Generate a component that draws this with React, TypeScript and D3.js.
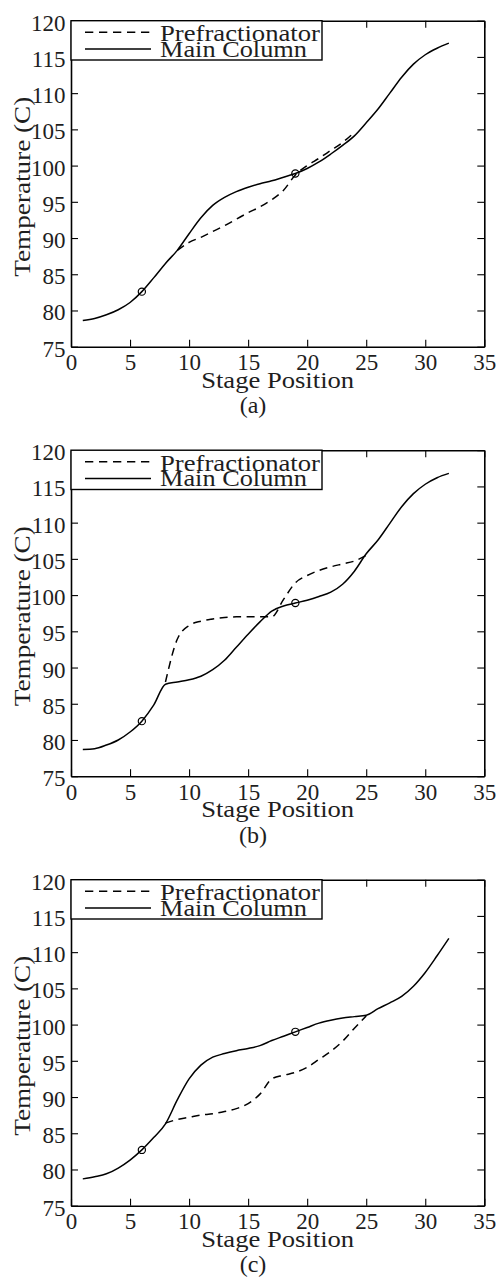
import React, { useEffect, useRef } from 'react';
import * as d3 from 'd3';

const mainStages = [1, 2, 3, 4, 5, 6, 7, 8, 9, 10, 11, 12, 13, 14, 15, 16, 17, 18, 19, 20, 21, 22, 23, 24, 25, 26, 27, 28, 29, 30, 31, 32];

const mainA = [78.6, 78.9, 79.4, 80.1, 81.1, 82.6, 84.5, 86.5, 88.3, 90.6, 92.8, 94.5, 95.6, 96.4, 97.0, 97.5, 97.9, 98.4, 98.9, 99.6, 100.5, 101.6, 102.8, 104.1, 105.9, 107.8, 110.0, 112.2, 114.0, 115.3, 116.2, 116.9];
const prefStagesA = [9, 10, 11, 12, 13, 14, 15, 16, 17, 18, 19, 20, 21, 22, 23, 24];
const prefA = [88.3, 89.4, 90.1, 90.9, 91.7, 92.6, 93.5, 94.3, 95.3, 96.6, 98.7, 100.0, 101.0, 102.1, 103.2, 104.6];

const mainB = [78.7, 78.8, 79.3, 80.0, 81.1, 82.6, 84.8, 87.7, 88.0, 88.3, 88.8, 89.7, 91.0, 92.8, 94.6, 96.3, 97.8, 98.5, 98.9, 99.3, 99.8, 100.4, 101.5, 103.3, 105.7, 107.6, 109.9, 112.2, 114.0, 115.3, 116.2, 116.8];
const prefStagesB = [8, 9, 10, 11, 12, 13, 14, 15, 16, 17, 18, 19, 20, 21, 22, 23, 24, 25];
const prefB = [88.0, 93.9, 95.8, 96.4, 96.7, 96.9, 97.0, 97.0, 97.0, 97.0, 99.4, 101.7, 102.7, 103.4, 103.9, 104.3, 104.7, 105.5];

const mainC = [78.7, 79.0, 79.4, 80.2, 81.3, 82.7, 84.4, 86.3, 89.6, 92.5, 94.4, 95.5, 96.0, 96.4, 96.7, 97.1, 97.8, 98.4, 99.0, 99.6, 100.2, 100.6, 100.9, 101.1, 101.3, 102.2, 103.0, 103.9, 105.3, 107.2, 109.5, 111.9];
const prefStagesC = [8, 9, 10, 11, 12, 13, 14, 15, 16, 17, 18, 19, 20, 21, 22, 23, 24, 25];
const prefC = [86.4, 86.9, 87.2, 87.5, 87.7, 88.0, 88.4, 89.1, 90.4, 92.5, 93.0, 93.4, 94.1, 95.2, 96.3, 97.7, 99.5, 101.2];

const markerStages = [6, 19];
const xTicks = [0, 5, 10, 15, 20, 25, 30, 35];
const yTicks = [75, 80, 85, 90, 95, 100, 105, 110, 115, 120];
const panelLabels = ['(a)', '(b)', '(c)'];
const legendLabels = ['Prefractionator', 'Main Column'];
const xTitle = 'Stage Position';
const yTitle = 'Temperature (C)';

const panels = [
  { main: mainA, prefStages: prefStagesA, pref: prefA },
  { main: mainB, prefStages: prefStagesB, pref: prefB },
  { main: mainC, prefStages: prefStagesC, pref: prefC },
];

const W = 498;
const H = 1279;
const tops = [20.7, 450.2, 879.7];
const LEFT = 71;
const RIGHT = 484.3;
const PH = 326;
const FONT = '"Liberation Serif", "Times New Roman", serif';
const TXT = '#1e1e1e';

export default function App() {
  const ref = useRef<SVGSVGElement | null>(null);

  useEffect(() => {
    const svg = d3.select(ref.current);
    svg.selectAll('*').remove();
    svg.append('rect').attr('width', W).attr('height', H).attr('fill', '#fff');

    panels.forEach((p, i) => {
      const g = svg.append('g').attr('transform', `translate(0,${tops[i]})`);
      const x = d3.scaleLinear().domain([0, 35]).range([LEFT, RIGHT]);
      const y = d3.scaleLinear().domain([75, 120]).range([PH, 0]);

      const styleAxis = (sel: any) => {
        sel.select('.domain').attr('stroke', '#000').attr('stroke-width', 1.6);
        sel.selectAll('.tick line').attr('stroke', '#000').attr('stroke-width', 1.1);
        sel.selectAll('text').attr('font-family', FONT).attr('font-size', 23).attr('fill', TXT);
        sel.attr('font-family', null).attr('font-size', null);
      };

      const bottom = g.append('g').attr('transform', `translate(0,${PH})`)
        .call(d3.axisBottom(x).tickValues(xTicks).tickSize(-7).tickSizeOuter(0).tickPadding(0).tickFormat(d3.format('d')));
      styleAxis(bottom);
      bottom.selectAll('text').attr('dy', null).attr('y', 23.5);

      const left = g.append('g').attr('transform', `translate(${LEFT},0)`)
        .call(d3.axisLeft(y).tickValues(yTicks).tickSize(-7).tickSizeOuter(0).tickPadding(0).tickFormat(d3.format('d')));
      styleAxis(left);
      left.selectAll('text').attr('dy', null).attr('x', -5.5).attr('y', 9.5);

      const right = g.append('g').attr('transform', `translate(${RIGHT},0)`)
        .call(d3.axisRight(y).tickValues(yTicks).tickSize(-7).tickSizeOuter(0).tickFormat(() => ''));
      styleAxis(right);

      const top = g.append('g')
        .call(d3.axisTop(x).tickValues(xTicks).tickSize(-7).tickSizeOuter(0).tickFormat(() => ''));
      styleAxis(top);

      const line = d3.line<[number, number]>()
        .x(d => x(d[0]))
        .y(d => y(d[1]))
        .curve(d3.curveMonotoneX);

      const mainPts: [number, number][] = mainStages.map((s, k) => [s, p.main[k]]);
      const prefPts: [number, number][] = p.prefStages.map((s, k) => [s, p.pref[k]]);

      g.append('path').attr('d', line(prefPts) as string)
        .attr('fill', 'none').attr('stroke', '#000').attr('stroke-width', 1.5)
        .attr('stroke-dasharray', '8,5.5');
      g.append('path').attr('d', line(mainPts) as string)
        .attr('fill', 'none').attr('stroke', '#000').attr('stroke-width', 1.5);

      g.selectAll('circle.mk').data(markerStages).enter().append('circle')
        .attr('class', 'mk')
        .attr('cx', d => x(d))
        .attr('cy', d => y(p.main[mainStages.indexOf(d)]))
        .attr('r', 3.6)
        .attr('fill', 'none').attr('stroke', '#000').attr('stroke-width', 1.2);

      // legend
      const lg = g.append('g');
      lg.append('rect').attr('x', LEFT).attr('y', 0).attr('width', 322 - LEFT).attr('height', 39.3)
        .attr('fill', '#fff').attr('stroke', '#000').attr('stroke-width', 1.4);
      lg.append('line').attr('x1', 85).attr('x2', 151).attr('y1', 11.6).attr('y2', 11.6)
        .attr('stroke', '#000').attr('stroke-width', 1.5).attr('stroke-dasharray', '8.3,5.7');
      lg.append('line').attr('x1', 85).attr('x2', 151).attr('y1', 28.4).attr('y2', 28.4)
        .attr('stroke', '#000').attr('stroke-width', 1.5);
      lg.append('text').attr('x', 160).attr('y', 20.3).text(legendLabels[0])
        .attr('font-family', FONT).attr('font-size', 23.5).attr('fill', TXT)
        .attr('textLength', 160).attr('lengthAdjust', 'spacingAndGlyphs');
      lg.append('text').attr('x', 160).attr('y', 36).text(legendLabels[1])
        .attr('font-family', FONT).attr('font-size', 23.5).attr('fill', TXT)
        .attr('textLength', 147).attr('lengthAdjust', 'spacingAndGlyphs');

      // titles
      g.append('text').attr('x', (LEFT + RIGHT) / 2).attr('y', PH + 41).attr('text-anchor', 'middle')
        .text(xTitle).attr('font-family', FONT).attr('font-size', 24).attr('fill', TXT)
        .attr('textLength', 153).attr('lengthAdjust', 'spacingAndGlyphs');
      g.append('text').attr('transform', `translate(30,${166})rotate(-90)`).attr('text-anchor', 'middle')
        .text(yTitle).attr('font-family', FONT).attr('font-size', 24).attr('fill', TXT)
        .attr('textLength', 180).attr('lengthAdjust', 'spacingAndGlyphs');
      g.append('text').attr('x', 253).attr('y', PH + 66.5).attr('text-anchor', 'middle')
        .text(panelLabels[i]).attr('font-family', FONT).attr('font-size', 24).attr('fill', TXT);
    });
  }, []);

  return (
    <div style={{ position: 'absolute', left: 0, top: 0, width: W, height: H, background: '#fff' }}>
      <svg ref={ref} width={W} height={H} style={{ display: 'block' }} />
    </div>
  );
}
